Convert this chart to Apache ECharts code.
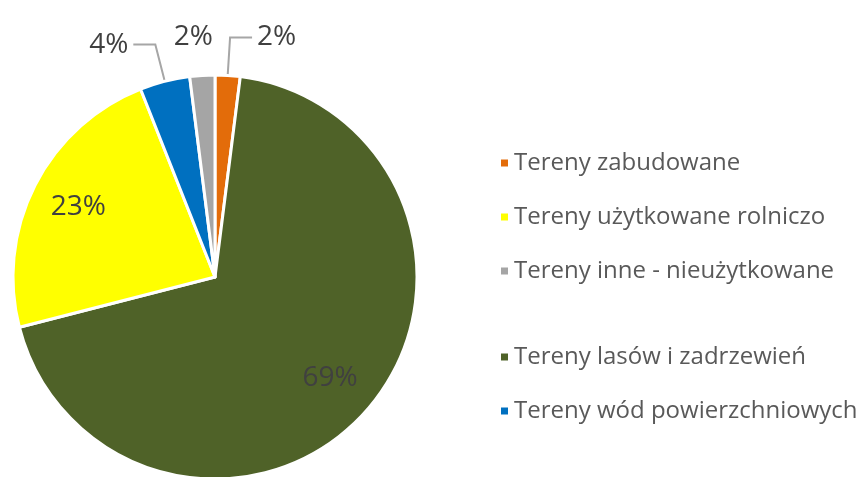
<!DOCTYPE html>
<html>
<head>
<meta charset="utf-8">
<script src="https://cdn.jsdelivr.net/npm/echarts@6/dist/echarts.min.js"></script>
<style>
html,body{margin:0;padding:0;background:#fff}
#main{width:864px;height:477px}
</style>
</head>
<body>
<div id="main"></div>
<script>
// kolejność jak na wykresie (zgodnie z ruchem wskazówek zegara od góry)
var names = ['Tereny zabudowane', 'Tereny lasów i zadrzewień', 'Tereny użytkowane rolniczo', 'Tereny wód powierzchniowych', 'Tereny inne - nieużytkowane'];
var values = [2, 69, 23, 4, 2];
var colors = ['#E36C0A', '#4F6228', '#FFFF00', '#0070C0', '#A5A5A5'];
var legendTop = ['Tereny zabudowane', 'Tereny użytkowane rolniczo', 'Tereny inne - nieużytkowane'];
var legendBottom = ['Tereny lasów i zadrzewień', 'Tereny wód powierzchniowych'];
var bigLimit = 10;

var font = 'Open Sans';
var chart = echarts.init(document.getElementById('main'));

var mainData = [], labelData = [];
for (var i = 0; i < names.length; i++) {
    var big = values[i] >= bigLimit;
    mainData.push({
        name: names[i],
        value: values[i],
        itemStyle: {color: colors[i]},
        label: {show: !big},
        labelLine: {show: !big}
    });
    labelData.push({
        name: names[i],
        value: values[i],
        label: {show: big}
    });
}
// szara etykieta bez linii, tak jak na oryginale
mainData[4].labelLine = {show: false};

var legendStyle = {
    orient: 'vertical',
    left: 494,
    itemWidth: 9,
    itemHeight: 9,
    itemGap: 30,
    icon: 'rect',
    selectedMode: false,
    textStyle: {fontFamily: font, fontSize: 24, lineHeight: 24, color: '#595959'}
};

chart.setOption({
    animation: false,
    legend: [
        Object.assign({top: 146, data: legendTop}, legendStyle),
        Object.assign({top: 340, data: legendBottom}, legendStyle)
    ],
    series: [
        {
            type: 'pie',
            center: [215, 277],
            radius: [0, 202],
            startAngle: 90,
            clockwise: true,
            avoidLabelOverlap: false,
            data: mainData,
            itemStyle: {borderColor: '#fff', borderWidth: 3},
            label: {
                position: 'outside',
                formatter: '{c}%',
                fontFamily: font,
                fontSize: 28,
                color: '#404040'
            },
            labelLine: {length: 38, length2: 22, lineStyle: {color: '#A6A6A6', width: 2}},
            labelLayout: function (params) {
                if (params.dataIndex === 4) {
                    return {dx: 40, dy: 0};
                }
            }
        },
        {
            // przezroczysta warstwa tylko dla etykiet wewnątrz dużych wycinków
            type: 'pie',
            silent: true,
            center: [215, 277],
            radius: [99, 202],
            startAngle: 90,
            clockwise: true,
            data: labelData,
            itemStyle: {color: 'rgba(0,0,0,0)'},
            label: {
                position: 'inside',
                formatter: '{c}%',
                fontFamily: font,
                fontSize: 28,
                color: '#404040'
            },
            labelLine: {show: false}
        }
    ]
});
</script>
</body>
</html>
